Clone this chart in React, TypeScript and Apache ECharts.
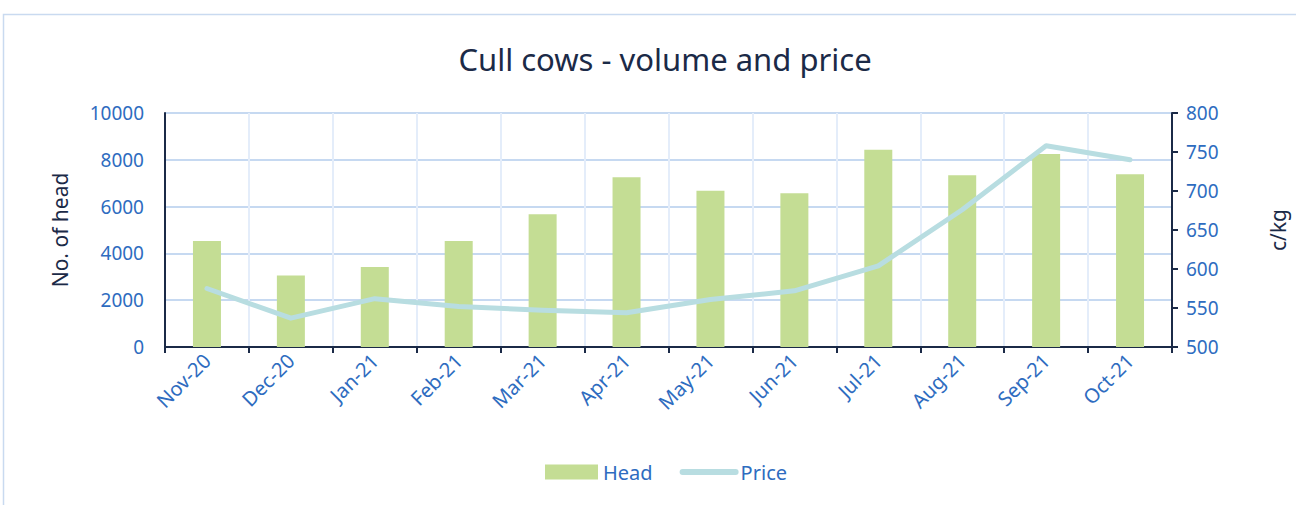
import React, { useEffect, useRef } from "react";
import * as echarts from "echarts";

const categories = ["Nov-20", "Dec-20", "Jan-21", "Feb-21", "Mar-21", "Apr-21", "May-21", "Jun-21", "Jul-21", "Aug-21", "Sep-21", "Oct-21"];
const headValues = [4530, 3060, 3420, 4530, 5670, 7250, 6680, 6570, 8430, 7340, 8250, 7380];
const priceValues = [575, 537, 562, 552, 547, 544, 561, 572, 604, 676, 758, 740];

const BLUE = "#2e6cc0";
const NAVY = "#1b2a47";
const FONT = "'Noto Sans', sans-serif";

export default function App() {
  const ref = useRef<HTMLDivElement>(null);
  useEffect(() => {
    if (!ref.current) return;
    const chart = echarts.init(ref.current, undefined, { renderer: "svg" });
    chart.setOption({
      animation: false,
      textStyle: { fontFamily: FONT },
      title: {
        text: "Cull cows - volume and price",
        left: 660,
        textAlign: "center",
        top: 38,
        textStyle: { fontFamily: FONT, fontSize: 31, fontWeight: "normal", color: NAVY },
      },
      graphic: [
        {
          type: "rect",
          shape: { x: 3.5, y: 14.5, width: 1300, height: 500 },
          style: { fill: "none", stroke: "#c9daf0", lineWidth: 1.5 },
          silent: true,
          z: -10,
        },
      ],
      legend: {
        bottom: 18,
        left: 540,
        itemGap: 27,
        itemWidth: 53,
        itemHeight: 15,
        textStyle: { fontFamily: FONT, fontSize: 20, color: BLUE },
        data: [
          { name: "Head", icon: "rect" },
          {
            name: "Price",
            itemStyle: { opacity: 0 },
            lineStyle: { width: 6, color: "#b8dde1", cap: "round" },
          },
        ],
      },
      grid: { left: 165, right: 121, top: 113, bottom: 158 },
      xAxis: {
        type: "category",
        data: categories,
        axisLine: { lineStyle: { color: NAVY, width: 2 } },
        axisTick: { show: true, length: 6, lineStyle: { color: NAVY, width: 2 } },
        splitLine: { show: true, lineStyle: { color: "#e4edfa", width: 2 } },
        axisLabel: { rotate: 45, fontSize: 20, color: BLUE, fontFamily: FONT, margin: 10 },
      },
      yAxis: [
        {
          type: "value",
          min: 0,
          max: 10000,
          interval: 2000,
          name: "No. of head",
          nameLocation: "middle",
          nameGap: 95,
          nameTextStyle: { fontSize: 21, color: NAVY, fontFamily: FONT },
          axisLine: { show: true, lineStyle: { color: NAVY, width: 2 } },
          axisTick: { show: false },
          splitLine: { show: true, lineStyle: { color: "#c6d9f1", width: 2 } },
          axisLabel: { fontSize: 19, color: BLUE, fontFamily: FONT, margin: 21, formatter: (v: number) => String(v) },
        },
        {
          type: "value",
          min: 500,
          max: 800,
          interval: 50,
          name: "c/kg",
          nameLocation: "middle",
          nameGap: 95,
          nameTextStyle: { fontSize: 21, color: NAVY, fontFamily: FONT },
          axisLine: { show: true, lineStyle: { color: NAVY, width: 2 } },
          axisTick: { show: true, length: 6, lineStyle: { color: NAVY, width: 2 } },
          splitLine: { show: false },
          axisLabel: { fontSize: 19, color: BLUE, fontFamily: FONT, margin: 14 },
        },
      ],
      series: [
        {
          name: "Head",
          type: "bar",
          data: headValues,
          barWidth: 28,
          itemStyle: { color: "#c4dd94" },
          yAxisIndex: 0,
        },
        {
          name: "Price",
          type: "line",
          data: priceValues,
          yAxisIndex: 1,
          symbol: "none",
          lineStyle: { color: "#b8dde1", width: 5, cap: "round", join: "round" },
          itemStyle: { color: "#b8dde1" },
        },
      ],
    });
    return () => chart.dispose();
  }, []);
  return (
    <div
      ref={ref}
      style={{ position: "absolute", left: 0, top: 0, width: 1296, height: 505, background: "#fff" }}
    />
  );
}
